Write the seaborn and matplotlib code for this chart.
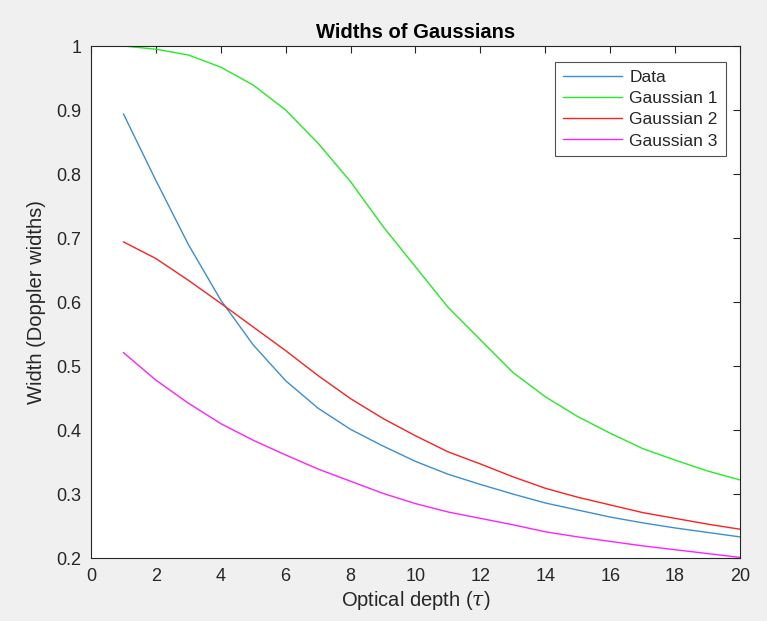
import numpy as np
import pandas as pd
import matplotlib
matplotlib.use("Agg")
import matplotlib.pyplot as plt
import seaborn as sns

tau = list(range(1, 21))

data_width = [0.894, 0.790, 0.690, 0.603, 0.533, 0.477, 0.434, 0.401, 0.375, 0.351,
              0.331, 0.315, 0.300, 0.286, 0.275, 0.264, 0.255, 0.247, 0.240, 0.233]
gauss1 = [1.000, 0.995, 0.986, 0.967, 0.939, 0.900, 0.848, 0.788, 0.718, 0.655,
          0.592, 0.541, 0.490, 0.452, 0.421, 0.395, 0.371, 0.353, 0.336, 0.322]
gauss2 = [0.694, 0.668, 0.634, 0.598, 0.561, 0.524, 0.485, 0.449, 0.418, 0.391,
          0.366, 0.347, 0.327, 0.309, 0.295, 0.283, 0.271, 0.262, 0.253, 0.245]
gauss3 = [0.521, 0.478, 0.442, 0.410, 0.384, 0.361, 0.339, 0.320, 0.301, 0.285,
          0.272, 0.262, 0.252, 0.241, 0.233, 0.226, 0.219, 0.213, 0.207, 0.201]

series_names = ["Data", "Gaussian 1", "Gaussian 2", "Gaussian 3"]
series_colors = ["#3b8fd2", "#22ee22", "#ff2020", "#ff22ff"]

df = pd.DataFrame({
    "tau": tau * 4,
    "width": data_width + gauss1 + gauss2 + gauss3,
    "series": sum([[n] * len(tau) for n in series_names], []),
})

sns.set_theme(style="white")
plt.rcParams["font.family"] = ["Liberation Sans", "DejaVu Sans"]
plt.rcParams["mathtext.fontset"] = "dejavuserif"

fig = plt.figure(figsize=(7.67, 6.21), dpi=100, facecolor="#f0f0f0")
ax = fig.add_axes([0.1186, 0.1014, 0.8462, 0.8245])
ax.set_facecolor("white")

sns.lineplot(data=df, x="tau", y="width", hue="series", hue_order=series_names,
             palette=dict(zip(series_names, series_colors)), linewidth=1.0,
             estimator=None, ax=ax)

ax.set_xlim(0, 20)
ax.set_ylim(0.2, 1.0)
ax.set_xticks(range(0, 21, 2))
ax.set_yticks(np.round(np.arange(0.2, 1.01, 0.1), 1))
ax.set_yticklabels(["0.2", "0.3", "0.4", "0.5", "0.6", "0.7", "0.8", "0.9", "1"])

edge = "#262626"
for s in ax.spines.values():
    s.set_visible(True)
    s.set_color(edge)
    s.set_linewidth(0.8)
ax.tick_params(direction="in", length=5, width=0.8, color=edge,
               top=True, right=True, labelsize=13, labelcolor=edge, pad=7)

ax.set_xlabel(r"Optical depth ($\tau$)", fontsize=14.5, color=edge, labelpad=3)
ax.set_ylabel("Width (Doppler widths)", fontsize=14.5, color=edge, labelpad=7)
ax.set_title("Widths of Gaussians", fontsize=14.5, fontweight="bold", color="black", pad=6)

leg = ax.legend(loc="upper right", bbox_to_anchor=(0.978, 0.969), fontsize=12.5,
                frameon=True, fancybox=False, handlelength=3.4, handletextpad=0.45,
                borderpad=0.45, labelspacing=0.35, borderaxespad=0)
leg.get_frame().set_edgecolor(edge)
leg.get_frame().set_linewidth(0.8)
for t in leg.get_texts():
    t.set_color(edge)

fig.savefig("out.png", dpi=100, facecolor=fig.get_facecolor())
